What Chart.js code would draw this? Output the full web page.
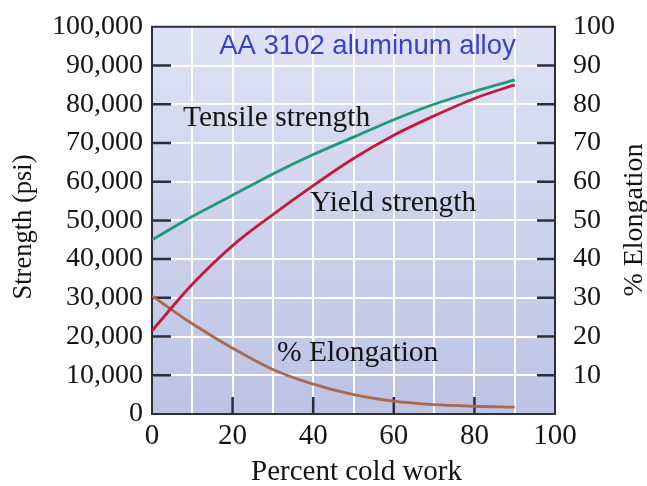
<!DOCTYPE html>
<html>
<head>
<meta charset="utf-8">
<script src="https://cdn.jsdelivr.net/npm/chart.js@4.4.1/dist/chart.umd.min.js"></script>
<style>
  html, body { margin: 0; padding: 0; background: #fff; }
  #wrap { width: 647px; height: 486px; position: relative; }
</style>
</head>
<body>
<div id="wrap"><canvas id="coldWorkChart"></canvas></div>
<script>
// 冷間加工率 (%) と各特性値 — 図から読み取った値
const coldWork = [0, 10, 20, 30, 40, 50, 60, 70, 80, 90]
const tensileStrength = [45000, 51000, 56500, 62000, 67000, 71500, 76000, 80000, 83300, 86300]
const yieldStrength = [21500, 33500, 43500, 51500, 59000, 66000, 72000, 77000, 81500, 85000]
const elongation = [30.5, 23.3, 17, 11.5, 7.7, 5, 3.3, 2.4, 2.0, 1.8]

const xTicks = [0, 20, 40, 60, 80, 100]
const strengthTicks = [0, 10000, 20000, 30000, 40000, 50000, 60000, 70000, 80000, 90000, 100000]
const elongationTicks = [10, 20, 30, 40, 50, 60, 70, 80, 90, 100]

const SERIF = "'Liberation Serif', 'Times New Roman', serif"
const SANS = "'Liberation Sans', Arial, sans-serif"
const INK = '#141414'

const toPoints = (ys) => coldWork.map((x, i) => ({ x: x, y: ys[i] }))

// 背景・枠・内向きの目盛り線
const framePlugin = {
  id: 'frame',
  beforeDraw(chart) {
    const { ctx, chartArea: a } = chart
    const g = ctx.createLinearGradient(0, a.top, 0, a.bottom)
    g.addColorStop(0, '#dfe2f3')
    g.addColorStop(1, '#bcc3e5')
    ctx.save()
    ctx.fillStyle = g
    ctx.fillRect(a.left, a.top, a.right - a.left, a.bottom - a.top)
    ctx.restore()
  },
  beforeDatasetsDraw(chart) {
    const { ctx, chartArea: a, scales } = chart
    ctx.save()
    ctx.strokeStyle = '#2b2d3c'
    ctx.lineWidth = 2.5
    ctx.beginPath()
    strengthTicks.slice(1, -1).forEach((v) => {
      const y = scales.y.getPixelForValue(v)
      ctx.moveTo(a.left, y); ctx.lineTo(a.left + 19, y)
    })
    elongationTicks.slice(0, -1).forEach((v) => {
      const y = scales.y1.getPixelForValue(v)
      ctx.moveTo(a.right, y); ctx.lineTo(a.right - 18, y)
    })
    xTicks.slice(1, -1).forEach((v) => {
      const x = scales.x.getPixelForValue(v)
      ctx.moveTo(x, a.bottom); ctx.lineTo(x, a.bottom - 17)
    })
    ctx.stroke()
    ctx.lineWidth = 2
    ctx.strokeRect(a.left, a.top, a.right - a.left, a.bottom - a.top)
    ctx.restore()
  }
}

// 曲線ラベル・タイトル・軸タイトル
const textPlugin = {
  id: 'texts',
  afterDatasetsDraw(chart) {
    const { ctx, scales, chartArea: a } = chart
    const put = (text, x, y, font, color, align, rot) => {
      ctx.save()
      ctx.translate(x, y)
      if (rot) ctx.rotate(rot)
      ctx.font = font
      ctx.fillStyle = color
      ctx.textAlign = align || 'left'
      ctx.textBaseline = 'alphabetic'
      ctx.fillText(text, 0, 0)
      ctx.restore()
    }
    const labelFont = '29.5px ' + SERIF
    put('Tensile strength', scales.x.getPixelForValue(7.7), scales.y.getPixelForValue(74400), labelFont, INK)
    put('Yield strength', scales.x.getPixelForValue(39.2), scales.y.getPixelForValue(52400), labelFont, INK)
    put('% Elongation', scales.x.getPixelForValue(31), scales.y1.getPixelForValue(13.6), labelFont, INK)

    put('AA 3102 aluminum alloy', (a.left + a.right) / 2 + 14, a.top + 27, '27.5px ' + SANS, '#3a3fd0', 'center')

    put('Strength (psi)', 31, 227, '26.5px ' + SERIF, INK, 'center', -Math.PI / 2)
    put('% Elongation', 642, 220, '28px ' + SERIF, INK, 'center', -Math.PI / 2)
    put('Percent cold work', (a.left + a.right) / 2 + 3, 480, '29px ' + SERIF, INK, 'center')
  }
}

document.addEventListener('DOMContentLoaded', () => {
  const ctx = document.querySelector('#coldWorkChart')

  new Chart(ctx, {
    type: 'line',
    data: {
      datasets: [
        { label: 'Tensile strength', data: toPoints(tensileStrength), yAxisID: 'y', borderColor: '#1c9a7b' },
        { label: 'Yield strength', data: toPoints(yieldStrength), yAxisID: 'y', borderColor: '#c21a3d' },
        { label: '% Elongation', data: toPoints(elongation), yAxisID: 'y1', borderColor: '#a96b4d' }
      ]
    },
    options: {
      responsive: true,
      maintainAspectRatio: false,
      animation: false,
      layout: { padding: { top: 19, left: 0, right: 0, bottom: 0 } },
      elements: {
        line: { borderWidth: 2.8, cubicInterpolationMode: 'monotone', fill: false },
        point: { radius: 0, hoverRadius: 0 }
      },
      plugins: {
        legend: { display: false },
        tooltip: { enabled: false }
      },
      scales: {
        x: {
          type: 'linear',
          min: 0,
          max: 100,
          afterFit: (s) => { s.height = 72 },
          afterBuildTicks: (s) => { s.ticks = [0, 10, 20, 30, 40, 50, 60, 70, 80, 90, 100].map((v) => ({ value: v })) },
          ticks: {
            autoSkip: false,
            maxRotation: 0,
            padding: 5,
            color: INK,
            font: { family: SERIF, size: 29 },
            callback: (v) => xTicks.includes(v) ? String(v) : ''
          },
          grid: { color: '#ffffff', lineWidth: 2, drawTicks: false },
          border: { display: false }
        },
        y: {
          position: 'left',
          min: 0,
          max: 100000,
          afterFit: (s) => { s.width = 152 },
          afterBuildTicks: (s) => { s.ticks = strengthTicks.map((v) => ({ value: v })) },
          ticks: {
            padding: 9,
            color: INK,
            font: { family: SERIF, size: 28 },
            callback: (v) => v.toLocaleString('en-US')
          },
          grid: { color: '#ffffff', lineWidth: 2, drawTicks: false },
          border: { display: false }
        },
        y1: {
          position: 'right',
          min: 0,
          max: 100,
          afterFit: (s) => { s.width = 92 },
          afterBuildTicks: (s) => { s.ticks = elongationTicks.map((v) => ({ value: v })) },
          ticks: {
            padding: 10,
            color: INK,
            font: { family: SERIF, size: 28 }
          },
          grid: { display: false },
          border: { display: false }
        }
      }
    },
    plugins: [framePlugin, textPlugin]
  })
})
</script>
</body>
</html>
